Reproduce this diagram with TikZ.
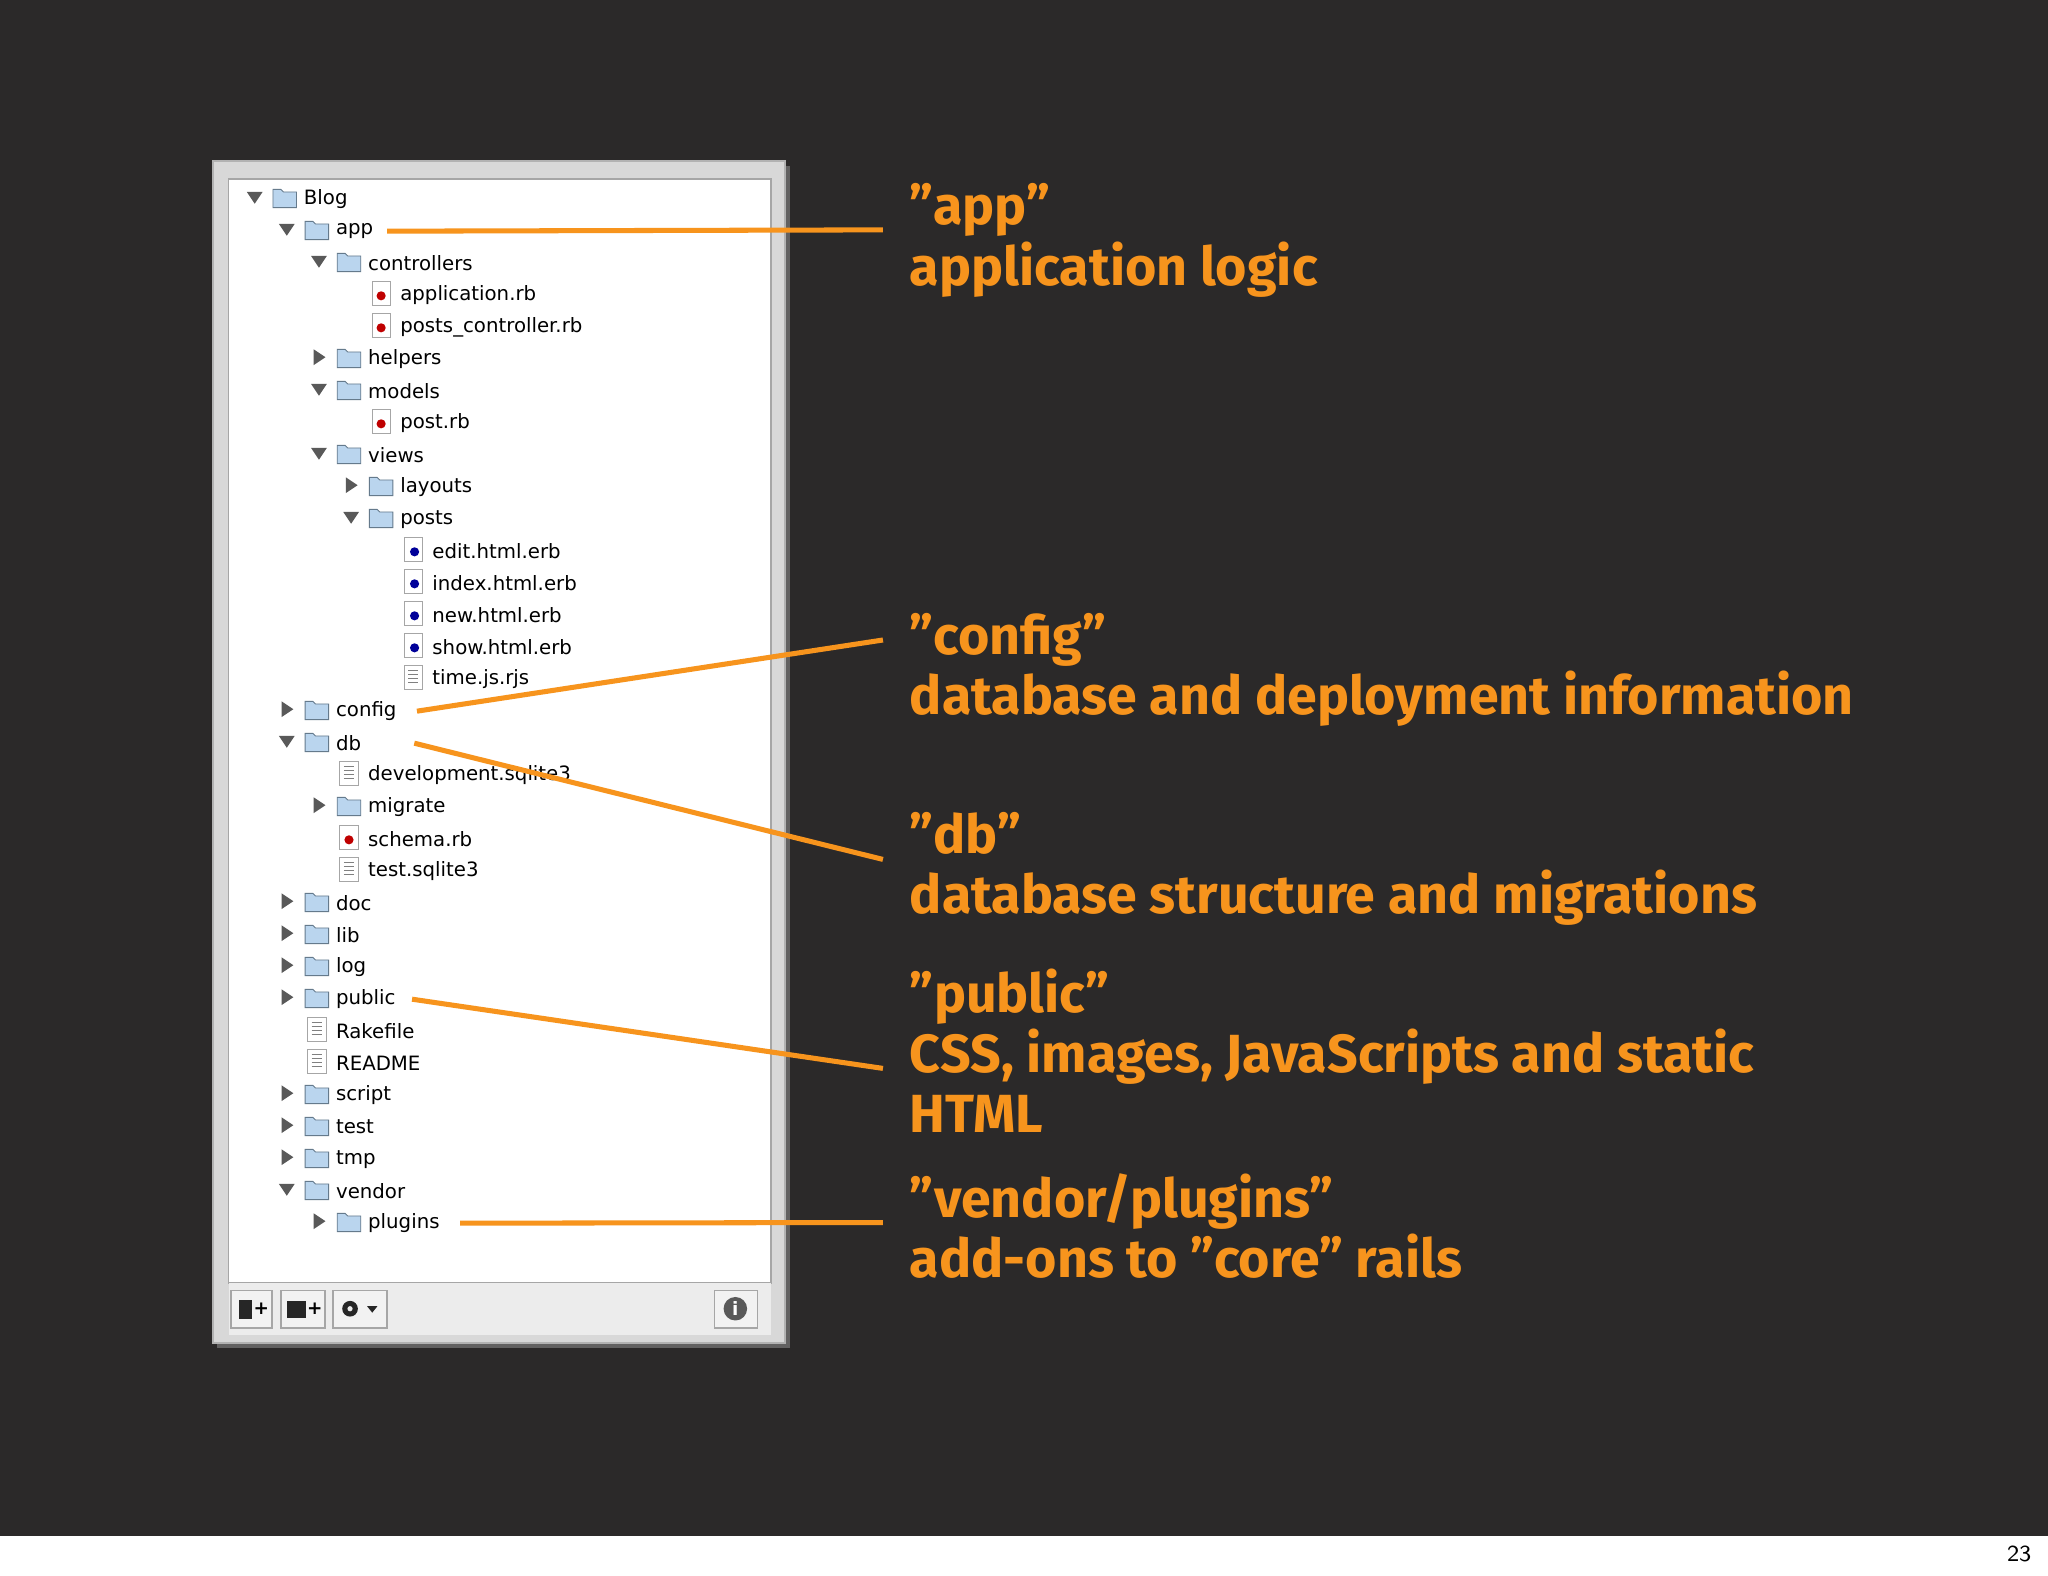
\documentclass[tikz,border=0pt]{standalone}
\usepackage{fontspec}
\newfontfamily\treefont{DejaVu Sans}
\newfontfamily\callfont{Fira Sans}
\definecolor{slidebg}{HTML}{2B2929}
\definecolor{callorange}{HTML}{F7941D}
\definecolor{foldblue}{HTML}{A9CBEA}
\definecolor{panelgray}{HTML}{D8D8D8}
\tikzset{
  tree/.style={anchor=west,inner sep=0pt,font=\treefont\fontsize{4.3}{5}\selectfont},
  callout/.style={anchor=north west,inner sep=0pt,align=left,text=callorange,
    font=\callfont\bfseries\fontsize{11.7}{13.1}\selectfont},
  leader/.style={callorange,line width=1.1pt},
  button/.style={draw=gray!70,fill=gray!10,line width=0.4pt}
}
% tree icons: #1 = x, #2 = y of icon centre
\newcommand\iconfold[2]{%
  \fill[foldblue!80!white,draw=foldblue!60!black,line width=0.2pt]
    (#1-9,#2-6) -- (#1-3,#2-6) -- (#1-1,#2-4) -- (#1+9,#2-4) -- (#1+9,#2+8) -- (#1-9,#2+8) -- cycle;}
\newcommand\icono[2]{\iconfold{#1}{#2}%
  \fill[gray!70!black] (#1-29,#2-4) -- (#1-17,#2-4) -- (#1-23,#2+5) -- cycle;}
\newcommand\iconc[2]{\iconfold{#1}{#2}%
  \fill[gray!70!black] (#1-27,#2-6) -- (#1-27,#2+6) -- (#1-18,#2) -- cycle;}
\newcommand\iconpage[2]{%
  \fill[white,draw=gray!70,line width=0.2pt] (#1-7,#2-9) rectangle (#1+7,#2+9);}
\newcommand\iconr[2]{\iconpage{#1}{#2}\fill[red!75!black] (#1,#2+2) circle (3.5);}
\newcommand\icone[2]{\iconpage{#1}{#2}\fill[blue!60!black] (#1+1,#2+2) circle (3.5);}
\newcommand\icont[2]{\iconpage{#1}{#2}%
  \foreach \k in {-5,-2,1,4} \draw[gray,line width=0.2pt] (#1-4,#2+\k) -- (#1+4,#2+\k);}
\begin{document}
\begin{tikzpicture}[x=0.1mm,y=-0.1mm]
  \useasboundingbox (0,0) rectangle (1568,1206);
  % BACKGROUND
  \fill[white] (0,0) rectangle (1568,1206);
  \fill[slidebg] (0,0) rectangle (1568,1176);
  \node[anchor=east,inner sep=0pt,font=\sffamily\fontsize{5}{6}\selectfont] (pagenum) at (1556,1190) {23};

  % PANEL
  \fill[black!40,opacity=0.5] (166,127) rectangle (605,1032);
  \fill[panelgray,draw=gray!60] (163,123) rectangle (601,1028);
  \fill[white,draw=gray!70] (175,137) rectangle (590,982);
  \fill[gray!15] (175,982) rectangle (590,1022);
  \draw[button] (177,988) rectangle (208,1017);
  \draw[button] (215,988) rectangle (249,1017);
  \draw[button] (255,988) rectangle (296,1017);
  \draw[button] (547,988) rectangle (580,1017);
  \fill[gray!30!black] (183,995) rectangle (193,1010);
  \fill[gray!30!black] (220,996) rectangle (234,1009);
  \node[inner sep=0pt,font=\treefont\bfseries\fontsize{4}{5}\selectfont] (btnfile) at (200,1002) {+};
  \node[inner sep=0pt,font=\treefont\bfseries\fontsize{4}{5}\selectfont] (btnfold) at (241,1002) {+};
  \fill[gray!30!black] (268,1002) circle (6);
  \fill[gray!15] (268,1002) circle (2);
  \fill[gray!30!black] (281,1000) -- (289,1000) -- (285,1005) -- cycle;
  \fill[gray!70!black] (563,1002) circle (9);
  \node[inner sep=0pt,text=white,font=\treefont\bfseries\fontsize{4}{5}\selectfont] (btninfo) at (563,1002) {i};

  % TREE
  \foreach \l/\t/\n [count=\i from 0] in {
    0/o/Blog, 1/o/app, 2/o/controllers, 3/r/application.rb, 3/r/posts\_controller.rb,
    2/c/helpers, 2/o/models, 3/r/post.rb, 2/o/views, 3/c/layouts, 3/o/posts,
    4/e/edit.html.erb, 4/e/index.html.erb, 4/e/new.html.erb, 4/e/show.html.erb, 4/t/time.js.rjs,
    1/c/config, 1/o/db, 2/t/development.sqlite3, 2/c/migrate, 2/r/schema.rb, 2/t/test.sqlite3,
    1/c/doc, 1/c/lib, 1/c/log, 1/c/public, 1/t/Rakefile, 1/t/README,
    1/c/script, 1/c/test, 1/c/tmp, 1/o/vendor, 2/c/plugins} {
    \pgfmathsetmacro\cx{218+24.6*\l}
    \pgfmathsetmacro\cy{151+24.5*\i}
    \csname icon\t\endcsname{\cx}{\cy}
    \node[tree] (row-\i) at (\cx+14,\cy+1.5) {\n};
  }

  % CALLOUTS
  \node[callout] (txt-app) at (696,140) {”app”\\application logic};
  \node[callout] (txt-config) at (696,469) {”config”\\database and deployment information};
  \node[callout] (txt-db) at (696,621) {”db”\\database structure and migrations};
  \node[callout] (txt-public) at (696,741) {”public”\\CSS, images, JavaScripts and static\\HTML};
  \node[callout] (txt-vendor) at (696,898) {”vendor/plugins”\\add-ons to ”core” rails};

  \coordinate (end-app) at (676,176);
  \coordinate (end-config) at (676,490);
  \coordinate (end-db) at (676,658);
  \coordinate (end-public) at (676,818);
  \coordinate (end-vendor) at (676,936);
  \draw[leader] ([xshift=1mm]row-1.east) -- (end-app);
  \draw[leader] ([xshift=1.5mm]row-16.east) -- (end-config);
  \draw[leader] ([xshift=4mm]row-17.east) -- (end-db);
  \draw[leader] ([xshift=1.2mm]row-25.east) -- (end-public);
  \draw[leader] ([xshift=1.5mm]row-32.east) -- (end-vendor);
\end{tikzpicture}
\end{document}
